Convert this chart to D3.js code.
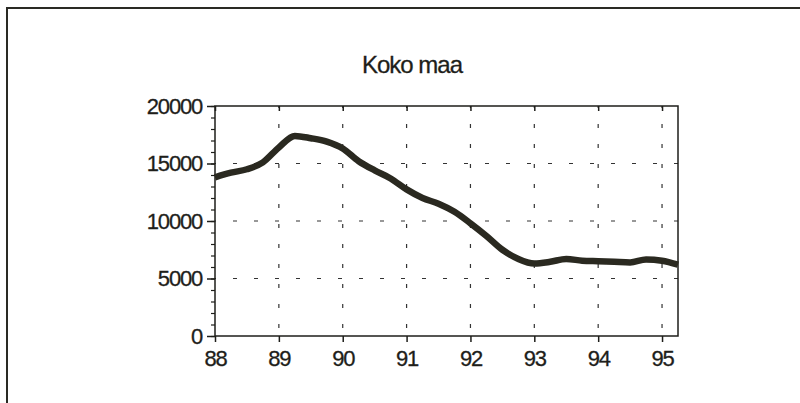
<!DOCTYPE html>
<html>
<head>
<meta charset="utf-8">
<script src="https://cdn.jsdelivr.net/npm/d3@7"></script>
<style>
  html, body { margin: 0; padding: 0; background: #fff; }
  svg { display: block; }
  text { font-family: "Liberation Sans", Arial, Helvetica, sans-serif; fill: #1e1e1a; }
</style>
</head>
<body>
<svg id="chart" width="800" height="403"></svg>
<script>
// ---- data ----
const title = "Koko maa";
const periods = [88.00, 88.25, 88.50, 88.75, 89.00, 89.25, 89.50, 89.75,
                 90.00, 90.25, 90.50, 90.75, 91.00, 91.25, 91.50, 91.75,
                 92.00, 92.25, 92.50, 92.75, 93.00, 93.25, 93.50, 93.75,
                 94.00, 94.25, 94.50, 94.75, 95.00, 95.25];
const values  = [13800, 14200, 14500, 15100, 16400, 17400, 17200, 16900,
                 16300, 15200, 14400, 13700, 12750, 12000, 11500, 10800,
                 9800, 8700, 7500, 6700, 6300, 6450, 6700, 6550,
                 6500, 6450, 6400, 6650, 6550, 6200];
const xTickValues = [88, 89, 90, 91, 92, 93, 94, 95];
const yTickValues = [0, 5000, 10000, 15000, 20000];
const yMinorTickValues = d3.range(0, 20001, 1000);

// ---- layout ----
const svg = d3.select("#chart");
const pLeft = 215, pRight = 678, pTop = 106, pBottom = 336;
const ink = "#1e1e1a";

const x = d3.scaleLinear().domain([88, 95.25]).range([pLeft, pRight]);
const y = d3.scaleLinear().domain([0, 20000]).range([pBottom, pTop]);

// outer frame (left and top edges)
svg.append("path")
  .attr("d", "M7,403 L7,8 L800,8")
  .attr("fill", "none").attr("stroke", "#2a2a24").attr("stroke-width", 2);

// title
svg.append("text")
  .attr("x", 412).attr("y", 73)
  .attr("text-anchor", "middle")
  .style("font-size", "24px").style("letter-spacing", "-1px")
  .style("stroke", ink).style("stroke-width", 0.3)
  .text(title);

// gridlines
const grid = svg.append("g").attr("stroke", "#333").attr("stroke-width", 1.2);
grid.selectAll("line.h").data(yTickValues.filter(v => v > 0 && v < 20000)).join("line")
  .attr("x1", pLeft).attr("x2", pRight)
  .attr("y1", d => y(d)).attr("y2", d => y(d))
  .attr("stroke-dasharray", "4,17").attr("stroke-dashoffset", -18);
grid.selectAll("line.v").data(xTickValues.filter(v => v > 88)).join("line")
  .attr("x1", d => x(d)).attr("x2", d => x(d))
  .attr("y1", pTop).attr("y2", pBottom)
  .attr("stroke-dasharray", "4,16").attr("stroke-dashoffset", -18);

// plot border
svg.append("rect")
  .attr("x", pLeft).attr("y", pTop)
  .attr("width", pRight - pLeft).attr("height", pBottom - pTop)
  .attr("fill", "none").attr("stroke", ink).attr("stroke-width", 1.5);

// axes
const fontStyle = sel => sel.selectAll("text")
  .style("font-size", "22px").style("letter-spacing", "-1.2px")
  .style("font-family", "\"Liberation Sans\", Arial, sans-serif")
  .style("stroke", ink).style("stroke-width", 0.3)
  .attr("fill", ink);

const xAxis = svg.append("g").attr("transform", `translate(0,${pBottom})`)
  .call(d3.axisBottom(x).tickValues(xTickValues).tickSize(6).tickPadding(8).tickFormat(d => d));
xAxis.select(".domain").remove();
xAxis.selectAll("line").attr("stroke", ink).attr("stroke-width", 1.5);
fontStyle(xAxis);

const xTop = svg.append("g").attr("transform", `translate(0,${pTop})`)
  .call(d3.axisTop(x).tickValues(xTickValues).tickSize(-5).tickFormat(""));
xTop.select(".domain").remove();
xTop.selectAll("line").attr("stroke", ink).attr("stroke-width", 1.5);

const yMinor = svg.append("g").attr("transform", `translate(${pLeft},0)`)
  .call(d3.axisLeft(y).tickValues(yMinorTickValues).tickSize(4).tickFormat(""));
yMinor.select(".domain").remove();
yMinor.selectAll("line").attr("stroke", ink).attr("stroke-width", 1.2);

const yAxis = svg.append("g").attr("transform", `translate(${pLeft},0)`)
  .call(d3.axisLeft(y).tickValues(yTickValues).tickSize(8).tickPadding(5).tickFormat(d => d));
yAxis.select(".domain").remove();
yAxis.selectAll("line").attr("stroke", ink).attr("stroke-width", 1.5);
fontStyle(yAxis);

// series line
const line = d3.line().x((d, i) => x(periods[i])).y(d => y(d)).curve(d3.curveMonotoneX);
svg.append("path")
  .datum(values)
  .attr("d", line)
  .attr("fill", "none")
  .attr("stroke", "#2a2920")
  .attr("stroke-width", 6.5)
  .attr("stroke-linejoin", "round")
  .attr("stroke-linecap", "butt");
</script>
</body>
</html>
